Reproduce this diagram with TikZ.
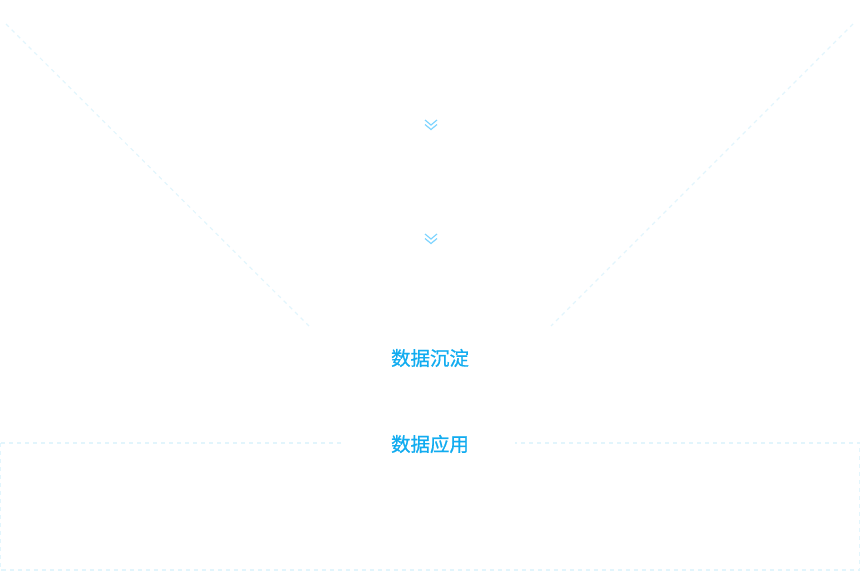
\documentclass[tikz,border=0pt]{standalone}
\usepackage{fontspec}
\newfontfamily\cjk[FakeBold=0.8]{Noto Sans CJK SC}
\definecolor{lineblue}{RGB}{226,245,252}
\definecolor{arrowblue}{RGB}{125,212,255}
\definecolor{textblue}{RGB}{17,172,240}
\tikzset{
  guide/.style={lineblue, line width=0.9pt, dash pattern=on 3pt off 3pt},
  chevron/.style={arrowblue, line width=0.9pt},
  title/.style={textblue, font=\cjk\fontsize{14.6}{16}\selectfont, inner sep=0pt}
}
\begin{document}
\begin{tikzpicture}[x=0.75pt, y=-0.75pt]
  \useasboundingbox (0,0) rectangle (860,571);
  \draw[guide](6,24) -- (309,326);
  \draw[guide](853,24) -- (551,326);
  \draw[guide](0.5,443) rectangle (859.5,570);
  \foreach \y in {120,234}{
    \draw[chevron](425,\y) -- (431,\y+5) -- (437,\y);
    \draw[chevron](425,\y+4.5) -- (431,\y+9.5) -- (437,\y+4.5);
  }
  \node[title] (sink) at (430,358) {数据沉淀};
  \node[title, fill=white, minimum width=127pt, minimum height=20pt] (apply) at (430,444) {数据应用};
\end{tikzpicture}
\end{document}
